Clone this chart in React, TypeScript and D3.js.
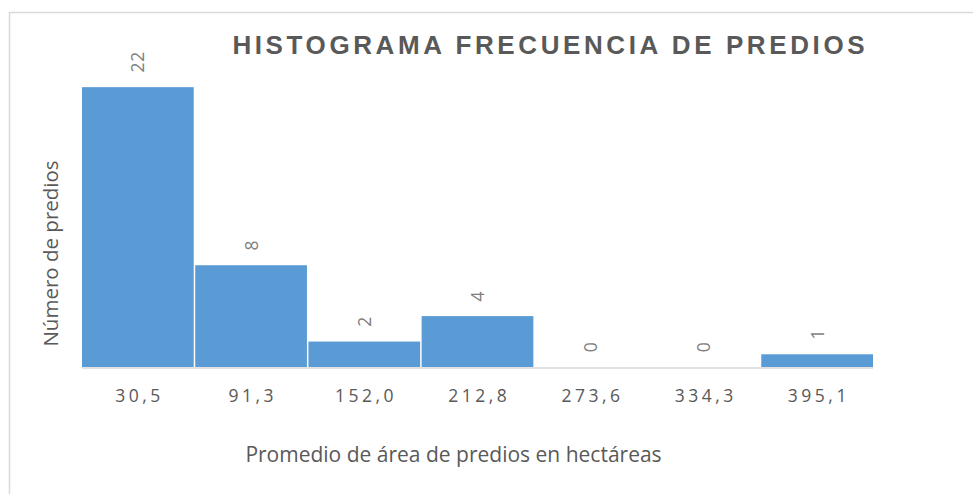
import React from "react";
import * as d3 from "d3";

const categories = ["30,5", "91,3", "152,0", "212,8", "273,6", "334,3", "395,1"];
const counts = [22, 8, 2, 4, 0, 0, 1];
const title = "HISTOGRAMA FRECUENCIA DE PREDIOS";
const xTitle = "Promedio de área de predios en hectáreas";
const yTitle = "Número de predios";

const W = 973;
const H = 494;
const plot = { left: 82, right: 873, top: 49, bottom: 367 };
const gray = "#595959";

export default function App() {
  const x = d3.scaleBand<string>().domain(categories).range([plot.left, plot.right]).paddingInner(0.013).paddingOuter(0);
  const y = d3.scaleLinear().domain([0, 25]).range([plot.bottom, plot.top]);
  const tickSpacing = 3.5;
  const labelSpacing = 0.8;

  return (
    <svg width={W} height={H} style={{ position: "absolute", left: 0, top: 0, background: "#fff" }}>
      <rect x={9.5} y={12.5} width={W + 10} height={H + 10} fill="#fff" stroke="#d9d9d9" strokeWidth={1.5} />
      <text
        x={548.5 + 1.8}
        y={54}
        textAnchor="middle"
        fontFamily="'Liberation Sans', Arial, sans-serif"
        fontWeight="bold"
        fontSize={26}
        letterSpacing={3.6}
        fill={gray}
      >
        {title}
      </text>
      {categories.map((c, i) => (
        <rect
          key={c}
          x={x(c)!}
          y={y(counts[i])}
          width={x.bandwidth()}
          height={plot.bottom - y(counts[i])}
          fill="#5B9BD5"
        />
      ))}
      <line x1={plot.left} x2={plot.right} y1={plot.bottom + 1} y2={plot.bottom + 1} stroke="#d9d9d9" strokeWidth={1.5} />
      {categories.map((c, i) => {
        const cx = x(c)! + x.bandwidth() / 2;
        const ty = y(counts[i]) - 15.5 + labelSpacing;
        return (
          <text
            key={"l" + c}
            transform={`translate(${cx + 6.5},${ty}) rotate(-90)`}
            textAnchor="start"
            fontFamily="'Open Sans', sans-serif"
            fontSize={17.5}
            letterSpacing={labelSpacing}
            fill="#7f7f7f"
          >
            {counts[i]}
          </text>
        );
      })}
      {categories.map((c) => (
        <text
          key={"t" + c}
          x={x(c)! + x.bandwidth() / 2 + tickSpacing / 2}
          y={402}
          textAnchor="middle"
          fontFamily="'Open Sans', sans-serif"
          fontSize={17.5}
          letterSpacing={tickSpacing}
          fill={gray}
        >
          {c}
        </text>
      ))}
      <text
        x={453.5}
        y={462}
        textAnchor="middle"
        fontFamily="'Open Sans', sans-serif"
        fontSize={21}
        fill={gray}
      >
        {xTitle}
      </text>
      <text
        transform={`translate(58,253.5) rotate(-90)`}
        textAnchor="middle"
        fontFamily="'Open Sans', sans-serif"
        fontSize={20.5}
        fill={gray}
      >
        {yTitle}
      </text>
    </svg>
  );
}
